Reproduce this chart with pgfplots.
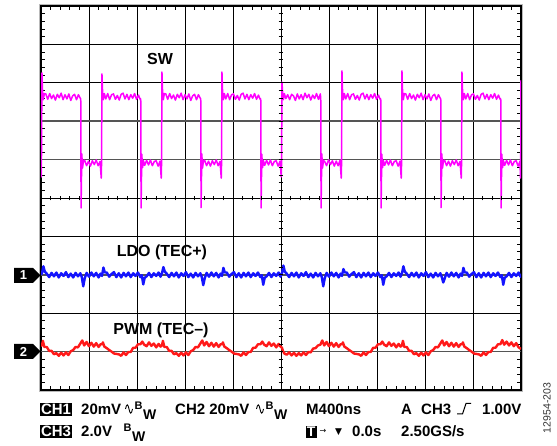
\documentclass[border=0pt]{standalone}
\usepackage{pgfplots}
\pgfplotsset{compat=1.18}
\usepackage{fontspec}
\setmainfont{Liberation Sans}
\newfontfamily\djv{DejaVu Sans}
\definecolor{swc}{RGB}{255,0,255}
\definecolor{ldoc}{RGB}{20,20,255}
\definecolor{pwmc}{RGB}{255,25,25}
\definecolor{refg}{RGB}{85,85,85}
\newcommand\tf{\bfseries\fontsize{15}{15}\selectfont}
\newcommand\lf{\bfseries\fontsize{16}{16}\selectfont}
\begin{document}
\begin{tikzpicture}[x=1pt,y=1pt]
\useasboundingbox (0,0) rectangle (557,446);
\draw[gray!55, line width=0.8pt] (39.4,54.4) rectangle (522.6,441.6);
\begin{axis}[at={(41pt,56pt)}, anchor=south west, scale only axis,
  width=480pt, height=384pt,
  xmin=0, xmax=10, ymin=0, ymax=10,
  xtick={0,...,10}, ytick={0,...,10},
  xticklabels={}, yticklabels={},
  minor tick num=4, tick align=inside, tick pos=both,
  major tick length=0pt, minor tick length=4pt,
  every tick/.style={black, line width=0.8pt},
  grid=major, major grid style={black, line width=0.9pt},
  axis line style={black, line width=1.6pt}]
\draw[refg, line width=1.8pt] (axis cs:0,1) -- (axis cs:10,1);
\draw[refg, line width=1.8pt] (axis cs:0,3) -- (axis cs:10,3);
\draw[refg, line width=1.8pt] (axis cs:0,6) -- (axis cs:10,6);
\draw[refg, line width=1.8pt] (axis cs:0,7) -- (axis cs:10,7);
% SW
\addplot[swc, line width=1.5pt, no marks, line join=round] coordinates {
(0.000,5.65) (0.008,5.55) (0.020,8.26) (0.032,7.80) (0.048,7.56) (0.070,7.72)
(0.10,7.71) (0.14,7.57) (0.18,7.72) (0.22,7.59) (0.26,7.68) (0.30,7.55) (0.34,7.70) (0.38,7.61) (0.42,7.73) (0.46,7.56) (0.50,7.69) (0.54,7.58) (0.58,7.71) (0.62,7.54) (0.66,7.66) (0.70,7.70) (0.74,7.56) (0.78,7.69) (0.82,7.59)
(0.828,7.58) (0.835,4.74) (0.850,6.15) (0.865,5.78) (0.885,5.98)
(0.91,5.98) (0.95,5.84) (0.99,5.96) (1.03,5.83) (1.07,5.97) (1.11,5.87) (1.15,5.99) (1.19,5.84) (1.23,5.95)
(1.255,5.52) (1.262,5.92) (1.270,8.23) (1.282,7.80) (1.298,7.56) (1.320,7.72)
(1.35,7.58) (1.39,7.72) (1.43,7.56) (1.47,7.69) (1.51,7.71) (1.55,7.57) (1.59,7.67) (1.63,7.55) (1.67,7.70) (1.71,7.73) (1.75,7.58) (1.79,7.70) (1.83,7.56) (1.87,7.69) (1.91,7.60) (1.95,7.72) (1.99,7.57) (2.03,7.68) (2.07,7.56)
(2.078,7.58) (2.085,4.74) (2.100,6.14) (2.115,5.79) (2.135,5.97)
(2.16,5.85) (2.20,5.98) (2.24,5.86) (2.28,5.99) (2.32,5.84) (2.36,5.95) (2.40,5.97) (2.44,5.83) (2.48,5.96)
(2.505,5.52) (2.512,5.92) (2.520,8.28) (2.532,7.80) (2.548,7.56) (2.570,7.72)
(2.60,7.71) (2.64,7.57) (2.68,7.72) (2.72,7.59) (2.76,7.68) (2.80,7.55) (2.84,7.70) (2.88,7.61) (2.92,7.73) (2.96,7.56) (3.00,7.69) (3.04,7.58) (3.08,7.71) (3.12,7.54) (3.16,7.66) (3.20,7.70) (3.24,7.56) (3.28,7.69) (3.32,7.59)
(3.328,7.58) (3.335,4.75) (3.350,6.15) (3.365,5.78) (3.385,5.98)
(3.41,5.98) (3.45,5.84) (3.49,5.96) (3.53,5.83) (3.57,5.97) (3.61,5.87) (3.65,5.99) (3.69,5.84) (3.73,5.95)
(3.755,5.52) (3.762,5.92) (3.770,8.28) (3.782,7.80) (3.798,7.56) (3.820,7.72)
(3.85,7.58) (3.89,7.72) (3.93,7.56) (3.97,7.69) (4.01,7.71) (4.05,7.57) (4.09,7.67) (4.13,7.55) (4.17,7.70) (4.21,7.73) (4.25,7.58) (4.29,7.70) (4.33,7.56) (4.37,7.69) (4.41,7.60) (4.45,7.72) (4.49,7.57) (4.53,7.68) (4.57,7.56)
(4.578,7.58) (4.585,4.74) (4.600,6.14) (4.615,5.79) (4.635,5.97)
(4.66,5.85) (4.70,5.98) (4.74,5.86) (4.78,5.99) (4.82,5.84) (4.86,5.95) (4.90,5.97) (4.94,5.83) (4.98,5.96)
(5.005,5.55) (5.012,5.92) (5.020,8.02) (5.032,7.78) (5.048,7.56) (5.070,7.72)
(5.10,7.59) (5.14,7.69) (5.18,7.56) (5.22,7.70) (5.26,7.66) (5.30,7.54) (5.34,7.71) (5.38,7.58) (5.42,7.69) (5.46,7.56) (5.50,7.73) (5.54,7.61) (5.58,7.70) (5.62,7.55) (5.66,7.68) (5.70,7.59) (5.74,7.72) (5.78,7.57) (5.82,7.71)
(5.828,7.58) (5.835,4.74) (5.850,6.15) (5.865,5.78) (5.885,5.98)
(5.91,5.95) (5.95,5.84) (5.99,5.99) (6.03,5.87) (6.07,5.97) (6.11,5.83) (6.15,5.96) (6.19,5.84) (6.23,5.98)
(6.255,5.52) (6.262,5.92) (6.270,8.31) (6.282,7.80) (6.298,7.56) (6.320,7.72)
(6.35,7.58) (6.39,7.72) (6.43,7.56) (6.47,7.69) (6.51,7.71) (6.55,7.57) (6.59,7.67) (6.63,7.55) (6.67,7.70) (6.71,7.73) (6.75,7.58) (6.79,7.70) (6.83,7.56) (6.87,7.69) (6.91,7.60) (6.95,7.72) (6.99,7.57) (7.03,7.68) (7.07,7.56)
(7.078,7.58) (7.085,4.74) (7.100,6.14) (7.115,5.79) (7.135,5.97)
(7.16,5.85) (7.20,5.98) (7.24,5.86) (7.28,5.99) (7.32,5.84) (7.36,5.95) (7.40,5.97) (7.44,5.83) (7.48,5.96)
(7.505,5.52) (7.512,5.92) (7.520,8.31) (7.532,7.80) (7.548,7.56) (7.570,7.72)
(7.60,7.71) (7.64,7.57) (7.68,7.72) (7.72,7.59) (7.76,7.68) (7.80,7.55) (7.84,7.70) (7.88,7.61) (7.92,7.73) (7.96,7.56) (8.00,7.69) (8.04,7.58) (8.08,7.71) (8.12,7.54) (8.16,7.66) (8.20,7.70) (8.24,7.56) (8.28,7.69) (8.32,7.59)
(8.328,7.58) (8.335,4.75) (8.350,6.15) (8.365,5.78) (8.385,5.98)
(8.41,5.98) (8.45,5.84) (8.49,5.96) (8.53,5.83) (8.57,5.97) (8.61,5.87) (8.65,5.99) (8.69,5.84) (8.73,5.95)
(8.755,5.52) (8.762,5.92) (8.770,8.28) (8.782,7.80) (8.798,7.56) (8.820,7.72)
(8.85,7.58) (8.89,7.72) (8.93,7.56) (8.97,7.69) (9.01,7.71) (9.05,7.57) (9.09,7.67) (9.13,7.55) (9.17,7.70) (9.21,7.73) (9.25,7.58) (9.29,7.70) (9.33,7.56) (9.37,7.69) (9.41,7.60) (9.45,7.72) (9.49,7.57) (9.53,7.68) (9.57,7.56)
(9.578,7.58) (9.585,4.74) (9.600,6.14) (9.615,5.79) (9.635,5.97)
(9.66,5.85) (9.70,5.98) (9.74,5.86) (9.78,5.99) (9.82,5.84) (9.86,5.95) (9.90,5.97) (9.94,5.83) (9.98,5.96)
(9.988,5.52) (9.994,5.92) (10.000,8.07)
};
% LDO (TEC+)
\addplot[ldoc, line width=2.4pt, no marks, line join=round] coordinates {
(0.00,3.00)
(0.02,3.04) (0.05,3.22) (0.08,3.08) (0.12,3.03) (0.17,2.94) (0.22,3.05) (0.27,2.96) (0.32,3.06) (0.37,2.93) (0.42,3.04) (0.47,2.97) (0.52,3.07) (0.57,2.94) (0.62,3.03) (0.67,2.93) (0.72,3.05) (0.77,2.96) (0.82,3.04) (0.85,2.94) (0.88,2.70) (0.91,2.90) (0.95,3.05) (1.00,2.95) (1.05,3.06) (1.10,2.96) (1.15,3.05) (1.20,2.93) (1.24,3.03)
(1.27,2.97) (1.30,3.19) (1.33,3.06) (1.37,3.06) (1.42,2.95) (1.47,3.02) (1.52,3.07) (1.57,2.94) (1.62,3.04) (1.67,2.93) (1.72,3.05) (1.77,2.96) (1.82,3.06) (1.87,2.94) (1.92,3.04) (1.97,2.97) (2.02,3.06) (2.07,2.94) (2.10,2.99) (2.13,2.75) (2.16,2.92) (2.20,2.96) (2.25,3.05) (2.30,2.94) (2.35,3.04) (2.40,2.97) (2.45,3.06) (2.49,2.95)
(2.52,3.04) (2.55,3.20) (2.58,3.08) (2.62,3.03) (2.67,2.94) (2.72,3.05) (2.77,2.96) (2.82,3.06) (2.87,2.93) (2.92,3.04) (2.97,2.97) (3.02,3.07) (3.07,2.94) (3.12,3.03) (3.17,2.93) (3.22,3.05) (3.27,2.96) (3.32,3.04) (3.35,2.94) (3.38,2.73) (3.41,2.90) (3.45,3.05) (3.50,2.95) (3.55,3.06) (3.60,2.96) (3.65,3.05) (3.70,2.93) (3.74,3.03)
(3.77,2.97) (3.80,3.18) (3.83,3.06) (3.87,3.06) (3.92,2.95) (3.97,3.02) (4.02,3.07) (4.07,2.94) (4.12,3.04) (4.17,2.93) (4.22,3.05) (4.27,2.96) (4.32,3.06) (4.37,2.94) (4.42,3.04) (4.47,2.97) (4.52,3.06) (4.57,2.94) (4.60,2.99) (4.63,2.74) (4.66,2.92) (4.70,2.96) (4.75,3.05) (4.80,2.94) (4.85,3.04) (4.90,2.97) (4.95,3.06) (4.99,2.95)
(5.02,3.04) (5.05,3.24) (5.08,3.08) (5.12,3.03) (5.17,2.94) (5.22,3.05) (5.27,2.96) (5.32,3.06) (5.37,2.93) (5.42,3.04) (5.47,2.97) (5.52,3.07) (5.57,2.94) (5.62,3.03) (5.67,2.93) (5.72,3.05) (5.77,2.96) (5.82,3.04) (5.85,2.94) (5.88,2.70) (5.91,2.90) (5.95,3.05) (6.00,2.95) (6.05,3.06) (6.10,2.96) (6.15,3.05) (6.20,2.93) (6.24,3.03)
(6.27,2.97) (6.30,3.15) (6.33,3.06) (6.37,3.06) (6.42,2.95) (6.47,3.02) (6.52,3.07) (6.57,2.94) (6.62,3.04) (6.67,2.93) (6.72,3.05) (6.77,2.96) (6.82,3.06) (6.87,2.94) (6.92,3.04) (6.97,2.97) (7.02,3.06) (7.07,2.94) (7.10,2.99) (7.13,2.74) (7.16,2.92) (7.20,2.96) (7.25,3.05) (7.30,2.94) (7.35,3.04) (7.40,2.97) (7.45,3.06) (7.49,2.95)
(7.52,3.04) (7.55,3.22) (7.58,3.08) (7.62,3.03) (7.67,2.94) (7.72,3.05) (7.77,2.96) (7.82,3.06) (7.87,2.93) (7.92,3.04) (7.97,2.97) (8.02,3.07) (8.07,2.94) (8.12,3.03) (8.17,2.93) (8.22,3.05) (8.27,2.96) (8.32,3.04) (8.35,2.94) (8.38,2.80) (8.41,2.90) (8.45,3.05) (8.50,2.95) (8.55,3.06) (8.60,2.96) (8.65,3.05) (8.70,2.93) (8.74,3.03)
(8.77,2.97) (8.80,3.18) (8.83,3.06) (8.87,3.06) (8.92,2.95) (8.97,3.02) (9.02,3.07) (9.07,2.94) (9.12,3.04) (9.17,2.93) (9.22,3.05) (9.27,2.96) (9.32,3.06) (9.37,2.94) (9.42,3.04) (9.47,2.97) (9.52,3.06) (9.57,2.94) (9.60,2.99) (9.63,2.74) (9.66,2.92) (9.70,2.96) (9.75,3.05) (9.80,2.94) (9.85,3.04) (9.90,2.97) (9.95,3.06) (9.99,2.95)
(10.00,3.01)
};
% PWM (TEC-)
\addplot[pwmc, line width=2.4pt, no marks, line join=round] coordinates {
(0.00,1.15)
(0.02,1.16) (0.04,1.28) (0.07,1.12) (0.12,1.12) (0.17,1.02) (0.22,1.02) (0.27,0.93) (0.32,0.96) (0.37,0.89) (0.42,0.97) (0.47,0.90) (0.52,0.98) (0.57,0.91) (0.62,1.01) (0.67,1.04) (0.72,1.12) (0.77,1.11) (0.82,1.21) (0.86,1.29) (0.90,1.16) (0.95,1.25) (1.00,1.14) (1.05,1.23) (1.10,1.13) (1.15,1.22) (1.20,1.12) (1.24,1.19)
(1.27,1.19) (1.29,1.24) (1.32,1.13) (1.37,1.09) (1.42,1.04) (1.47,1.00) (1.52,0.95) (1.57,0.94) (1.62,0.93) (1.67,0.89) (1.72,0.98) (1.77,0.91) (1.82,0.99) (1.87,0.99) (1.92,1.10) (1.97,1.10) (2.02,1.19) (2.07,1.19) (2.11,1.26) (2.15,1.18) (2.20,1.14) (2.25,1.24) (2.30,1.15) (2.35,1.21) (2.40,1.11) (2.45,1.20) (2.49,1.13)
(2.52,1.16) (2.54,1.28) (2.57,1.12) (2.62,1.12) (2.67,1.02) (2.72,1.02) (2.77,0.93) (2.82,0.96) (2.87,0.89) (2.92,0.97) (2.97,0.90) (3.02,0.98) (3.07,0.91) (3.12,1.01) (3.17,1.04) (3.22,1.12) (3.27,1.11) (3.32,1.21) (3.36,1.29) (3.40,1.16) (3.45,1.25) (3.50,1.14) (3.55,1.23) (3.60,1.13) (3.65,1.22) (3.70,1.12) (3.74,1.19)
(3.77,1.19) (3.79,1.24) (3.82,1.13) (3.87,1.09) (3.92,1.04) (3.97,1.00) (4.02,0.95) (4.07,0.94) (4.12,0.93) (4.17,0.89) (4.22,0.98) (4.27,0.91) (4.32,0.99) (4.37,0.99) (4.42,1.10) (4.47,1.10) (4.52,1.19) (4.57,1.19) (4.61,1.26) (4.65,1.18) (4.70,1.14) (4.75,1.24) (4.80,1.15) (4.85,1.21) (4.90,1.11) (4.95,1.20) (4.99,1.13)
(5.02,1.10) (5.04,1.02) (5.07,0.95) (5.12,0.92) (5.17,0.98) (5.22,0.90) (5.27,0.97) (5.32,0.89) (5.37,0.96) (5.42,0.90) (5.47,0.98) (5.52,0.91) (5.57,0.99) (5.62,0.98) (5.67,1.08) (5.72,1.09) (5.77,1.16) (5.82,1.18) (5.86,1.29) (5.90,1.16) (5.95,1.25) (6.00,1.14) (6.05,1.23) (6.10,1.13) (6.15,1.22) (6.20,1.12) (6.24,1.19)
(6.27,1.19) (6.29,1.24) (6.32,1.13) (6.37,1.09) (6.42,1.04) (6.47,1.00) (6.52,0.95) (6.57,0.94) (6.62,0.93) (6.67,0.89) (6.72,0.98) (6.77,0.91) (6.82,0.99) (6.87,0.99) (6.92,1.10) (6.97,1.10) (7.02,1.19) (7.07,1.19) (7.11,1.26) (7.15,1.18) (7.20,1.14) (7.25,1.24) (7.30,1.15) (7.35,1.21) (7.40,1.11) (7.45,1.20) (7.49,1.13)
(7.52,1.16) (7.54,1.28) (7.57,1.12) (7.62,1.12) (7.67,1.02) (7.72,1.02) (7.77,0.93) (7.82,0.96) (7.87,0.89) (7.92,0.97) (7.97,0.90) (8.02,0.98) (8.07,0.91) (8.12,1.01) (8.17,1.04) (8.22,1.12) (8.27,1.11) (8.32,1.21) (8.36,1.29) (8.40,1.16) (8.45,1.25) (8.50,1.14) (8.55,1.23) (8.60,1.13) (8.65,1.22) (8.70,1.12) (8.74,1.19)
(8.77,1.19) (8.79,1.24) (8.82,1.13) (8.87,1.09) (8.92,1.04) (8.97,1.00) (9.02,0.95) (9.07,0.94) (9.12,0.93) (9.17,0.89) (9.22,0.98) (9.27,0.91) (9.32,0.99) (9.37,0.99) (9.42,1.10) (9.47,1.10) (9.52,1.19) (9.57,1.19) (9.61,1.30) (9.65,1.18) (9.70,1.26) (9.75,1.16) (9.80,1.24) (9.85,1.14) (9.90,1.22) (9.95,1.11) (9.99,1.08)
(10.00,1.06)
};
\node[font=\lf] at (axis cs:2.48,8.62) {SW};
\node[font=\lf] at (axis cs:2.52,3.59) {LDO (TEC+)};
\node[font=\lf] at (axis cs:2.50,1.56) {PWM (TEC–)};
\end{axis}
% centre-line ticks
\foreach \i in {1,...,49} {
  \draw[black, line width=0.8pt] ({41+9.6*\i},245.7) -- ({41+9.6*\i},250.3);
  \draw[black, line width=0.8pt] (278.6,{56+7.68*\i}) -- (283.4,{56+7.68*\i});
}
% channel markers
\fill[black] (14,163) -- (33,163) -- (40.5,170.5) -- (33,178) -- (14,178) -- cycle;
\node[text=white, font=\bfseries\fontsize{13}{13}\selectfont] at (23.5,170.5) {1};
\fill[black] (14,87) -- (33,87) -- (40.5,94.5) -- (33,102) -- (14,102) -- cycle;
\node[text=white, font=\bfseries\fontsize{13}{13}\selectfont] at (23.5,94.5) {2};
% status line 1
\node[anchor=base west, fill=black, text=white, inner sep=1.3pt, font=\tf] at (39.5,31.5) {CH1};
\node[anchor=base west, inner sep=0pt, font=\tf] at (81,31.5) {20mV};
\draw[black, line width=0.9pt] (125.5,37) .. controls (126.5,42.5) and (128,42.5) .. (129,37) .. controls (130,31.5) and (131.5,31.5) .. (132.5,37);
\node[anchor=base west, inner sep=0pt, font=\bfseries\fontsize{11}{11}\selectfont] at (134.5,36) {B};
\node[anchor=base west, inner sep=0pt, font=\bfseries\fontsize{14}{14}\selectfont] at (143,26.5) {W};
\node[anchor=base west, inner sep=0pt, font=\tf] at (175,31.5) {CH2 20mV};
\draw[black, line width=0.9pt] (256.5,37) .. controls (257.5,42.5) and (259,42.5) .. (260,37) .. controls (261,31.5) and (262.5,31.5) .. (263.5,37);
\node[anchor=base west, inner sep=0pt, font=\bfseries\fontsize{11}{11}\selectfont] at (265.5,36) {B};
\node[anchor=base west, inner sep=0pt, font=\bfseries\fontsize{14}{14}\selectfont] at (274,26.5) {W};
\node[anchor=base west, inner sep=0pt, font=\tf] at (306,31.5) {M400ns};
\node[anchor=base west, inner sep=0pt, font=\tf] at (401,31.5) {A};
\node[anchor=base west, inner sep=0pt, font=\tf] at (421,31.5) {CH3};
\draw[black, line width=1pt] (457,32) -- (462.5,32) -- (466,42.5) -- (471,42.5);
\node[anchor=base west, inner sep=0pt, font=\tf] at (482,31.5) {1.00V};
% status line 2
\node[anchor=base west, fill=black, text=white, inner sep=1.3pt, font=\tf] at (39.5,9.5) {CH3};
\node[anchor=base west, inner sep=0pt, font=\tf] at (81,9.5) {2.0V};
\node[anchor=base west, inner sep=0pt, font=\bfseries\fontsize{11}{11}\selectfont] at (123.5,14) {B};
\node[anchor=base west, inner sep=0pt, font=\bfseries\fontsize{14}{14}\selectfont] at (132,4.5) {W};
\node[anchor=base west, fill=black, text=white, inner sep=1.2pt, font=\bfseries\fontsize{14}{14}\selectfont] at (305.5,9.5) {T};
\node[anchor=base west, inner sep=0pt, font=\djv\fontsize{8}{8}\selectfont] at (319.5,12) {→};
\node[anchor=base west, inner sep=0pt, font=\djv\fontsize{9}{9}\selectfont] at (335,11) {▼};
\node[anchor=base west, inner sep=0pt, font=\tf] at (352,9.5) {0.0s};
\node[anchor=base west, inner sep=0pt, font=\tf] at (401,9.5) {2.50GS/s};
% figure code
\node[rotate=90, inner sep=0pt, font=\fontsize{10.5}{10.5}\selectfont, text=black!80] at (547,38) {12954-203};
\end{tikzpicture}
\end{document}
